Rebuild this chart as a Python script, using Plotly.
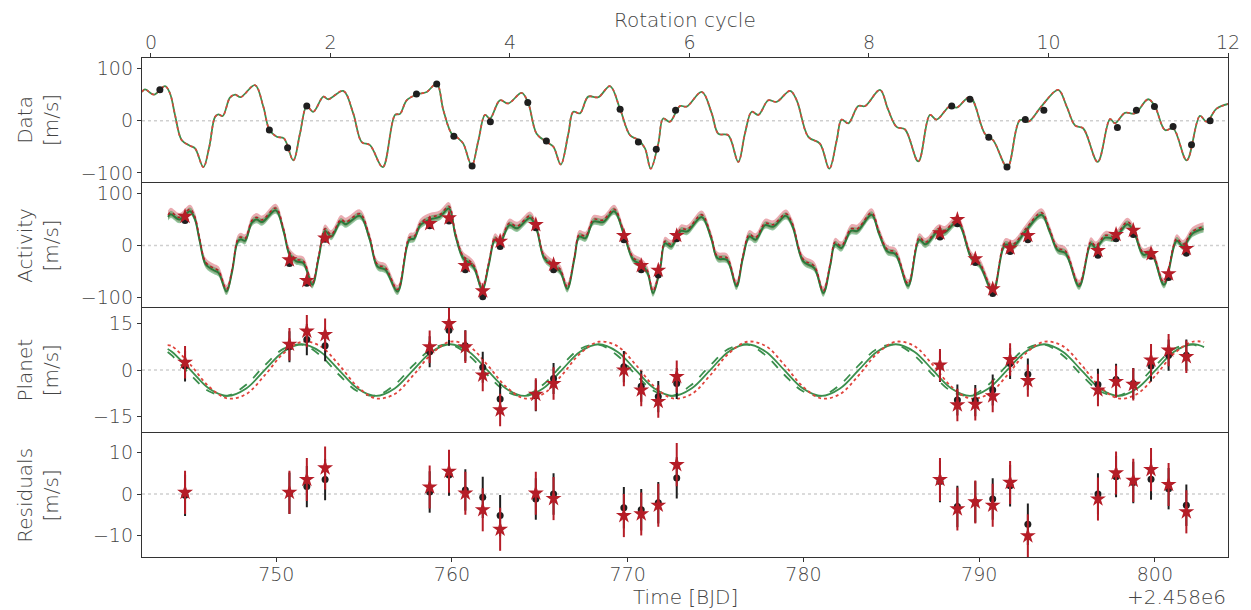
import plotly.graph_objects as go

# ---------------- data ----------------
obs_t = [744.81, 750.75, 751.74, 752.78, 758.73, 759.83, 760.76, 761.75, 762.74, 764.77,
         765.78, 769.78, 770.77, 771.74, 772.79, 787.77, 788.76, 789.78, 790.77, 791.76,
         792.77, 796.76, 797.79, 798.77, 799.78, 800.78, 801.79]
data_rv = [59, -18, -52, 28, 51, 70, -30, -87, -2, 35, -39, 22, -41, -55, 20,
           28, 41, -32, -89, 2, 20, -13, 20, 27, -11, -46, 0]
act_star = [56, -28, -68, 14, 42, 53, -39, -88, 8, 40, -37, 19, -39, -48, 19,
            24, 50, -26, -84, -5, 19, -10, 21, 29, -16, -55, -6]
act_dot = [48, -35, -73, 12, 38, 47, -47, -99, -2, 34, -47, 11, -47, -57, 13,
           16, 42, -33, -93, -12, 11, -19, 13, 21, -21, -62, -15]
planet_star = [2.5, 8.3, 12.5, 11.4, 7.5, 14.9, 7.5, -1.6, -12.8, -7.8, -4.3, 0.0, -6.4, -10.1, -2.1,
               1.6, -11.2, -11.0, -8.3, 3.4, -3.4, -6.4, -3.7, -4.6, 3.2, 6.4, 4.3]
planet_dot = [1.3, 7.5, 9.8, 7.8, 5.9, 12.8, 7.8, 0.9, -9.3, -8.2, -2.7, 1.1, -5.2, -8.5, -4.3,
              1.2, -9.6, -9.8, -6.4, 2.1, -1.3, -4.6, -3.0, -4.3, 1.3, 4.8, 4.8]
resid_star = [0.4, 0.4, 3.5, 6.3, 1.7, 5.5, 0.2, -3.8, -8.5, 0.2, -1.1, -5.2, -4.8, -2.7, 7.1,
              3.5, -3.6, -1.9, -2.7, 2.8, -10.1, -1.2, 5.1, 3.3, 5.9, 2.3, -4.3]
resid_dot = [-0.3, 0.2, 1.8, 3.5, 0.5, 4.6, 1.0, -0.8, -5.2, -1.2, 0.0, -3.3, -3.8, -2.1, 3.9,
             3.0, -3.0, -1.9, -1.2, 2.0, -7.3, 0.0, 4.2, 2.8, 3.6, 1.3, -2.7]
err_star = 5.2
err_dot = 5.0

# activity / full GP model curve (knots)
act_t = [743.84, 744.00, 744.49, 745.09, 745.36, 745.63, 745.99, 746.44, 746.72, 747.17,
         747.49, 747.80, 747.98, 748.22, 748.61, 748.89, 749.19, 749.97, 750.42, 750.75,
         751.15, 751.54, 752.05, 752.41, 752.78, 753.13, 753.68, 753.95, 754.76, 755.30,
         755.76, 756.21, 756.90, 757.57, 757.84, 758.20, 758.74, 759.29, 759.83, 760.19,
         760.64, 761.00, 761.27, 761.73, 762.09, 762.45, 762.72, 763.26, 763.71, 764.44,
         764.80, 765.25, 765.80, 766.16, 766.56, 766.97, 767.24, 767.60, 768.05, 768.60,
         769.23, 769.77, 770.32, 770.77, 771.13, 771.44, 771.85, 772.12, 772.48, 773.03,
         773.39, 774.21, 774.75, 775.11, 775.65, 776.19, 776.55, 776.92, 777.28, 777.82,
         778.27, 779.00, 779.36, 779.99, 780.62, 781.13, 781.53, 781.80, 782.16, 782.70,
         783.07, 783.88, 784.30, 784.78, 785.24, 785.96, 786.59, 786.95, 787.68, 788.04,
         788.76, 789.57, 790.03, 790.79, 791.47, 791.93, 792.65, 793.55, 794.01, 794.46,
         794.91, 795.69, 796.36, 796.63, 797.17, 797.71, 798.43, 798.80, 799.34, 799.79,
         800.52, 801.24, 801.60, 802.14, 802.77]
act_v = [55, 60, 50, 66, 52, 11, -37, -48, -53, -89,
         -50, 7, 12, 9, 44, 50, 45, 68, 27, -17,
         -31, -34, -76, -25, 28, 17, 46, 41, 57, 14,
         -41, -47, -89, 11, 13, 39, 50, 55, 71, 20,
         -25, -34, -44, -86, -38, 11, 4, 39, 33, 53,
         33, -25, -41, -50, -84, -25, 17, 14, 46, 45,
         66, 23, -28, -37, -53, -92, -44, 4, -2, 28,
         27, 55, 14, -25, -28, -79, -25, 17, 11, 39,
         36, 57, 39, -31, -44, -92, -38, 2, -5, 28,
         28, 59, 23, -12, -17, -78, 11, 2, 28, 25,
         45, -25, -38, -89, 1, -2, 28, 59, 27, -9,
         -15, -79, 3, -5, 15, 14, 41, 27, -18, -15,
         -76, 9, -2, 23, 32]
act_red_v = [59, 64, 54, 70, 56, 15, -33, -44, -49, -85,
             -46, 11, 16, 13, 48, 54, 49, 72, 31, -13,
             -27, -30, -72, -21, 32, 21, 50, 45, 61, 18,
             -37, -43, -85, 15, 17, 43, 54, 59, 75, 24,
             -21, -30, -40, -82, -34, 15, 8, 43, 37, 57,
             37, -21, -37, -46, -80, -21, 21, 18, 50, 49,
             70, 27, -24, -33, -49, -88, -40, 8, 2, 32,
             31, 59, 18, -21, -24, -75, -21, 21, 15, 43,
             40, 61, 43, -27, -40, -88, -34, 6, -1, 32,
             32, 63, 27, -8, -13, -74, 15, 6, 32, 29,
             49, -21, -34, -85, 5, 2, 32, 63, 31, -5,
             -11, -75, 7, -1, 19, 18, 45, 31, -14, -11,
             -72, 13, 2, 27, 36]
green_sd = 7.0
red_sd = 8.5

# planet (Keplerian) model curves
planet_t = [743.82, 744.06, 745.12, 746.17, 747.23, 748.29, 749.34, 750.40, 751.45, 752.51,
            753.57, 754.62, 755.68, 756.74, 757.79, 758.85, 759.90, 760.96, 762.01, 763.07,
            764.13, 765.18, 766.24, 767.29, 768.35, 769.41, 770.46, 771.52, 772.58, 773.63,
            774.69, 775.74, 776.80, 777.86, 778.91, 779.97, 781.03, 782.08, 783.14, 784.19,
            785.25, 786.31, 787.36, 788.42, 789.48, 790.53, 791.59, 792.64, 793.70, 794.76,
            795.81, 796.87, 797.93, 798.98, 800.04, 801.09, 802.15, 802.80]
planet_green = [6.8] + [5.9, 0.0, -5.9, -8.3, -5.9, 0.0, 5.9, 8.3] * 7 + [7.4]
planet_dash = [5.8] + [4.7, -1.5, -6.8, -8.2, -4.7, 1.5, 6.8, 8.2] * 7 + [6.5]
planet_red = [8.0] + [7.7, 1.7, -5.3, -9.1, -7.7, -1.7, 5.3, 9.1] * 7 + [9.0]

cycle_ticks = [0, 2, 4, 6, 8, 10, 12]
time_ticks = [750, 760, 770, 780, 790, 800]

# ---------------- style ----------------
GREEN = "#3b8f4d"
GREEN_DARK = "#2a7a3b"
GREEN_BAND = "rgba(76,165,96,0.6)"
RED_BAND = "rgba(220,115,125,0.6)"
RED_LINE = "#e0443c"
RED_STAR = "#b51d27"
BLACK = "#1f1f1f"
TXT = "#444444"
FONT = dict(family="DejaVu Sans ExtraLight, DejaVu Sans", size=19, color=TXT, weight=200)

fig = go.Figure()

# ---- panel 1: data ----
fig.add_trace(go.Scatter(x=act_t, y=act_v, mode="lines", xaxis="x", yaxis="y",
                         line=dict(color=GREEN, width=1.8, shape="spline"), showlegend=False))
fig.add_trace(go.Scatter(x=act_t, y=act_v, mode="lines", xaxis="x", yaxis="y",
                         line=dict(color=RED_LINE, width=1.6, dash="dot", shape="spline"), showlegend=False))
fig.add_trace(go.Scatter(x=obs_t, y=data_rv, mode="markers", xaxis="x", yaxis="y",
                         marker=dict(color=BLACK, size=7), showlegend=False))
# carriers for the top (rotation cycle) and tick-mark-only axes
fig.add_trace(go.Scatter(x=[], y=[], xaxis="x5", yaxis="y", showlegend=False))
fig.add_trace(go.Scatter(x=[], y=[], xaxis="x6", yaxis="y", showlegend=False))
fig.add_trace(go.Scatter(x=[], y=[], xaxis="x7", yaxis="y4", showlegend=False))

# ---- panel 2: activity ----
red_hi = [v + red_sd for v in act_red_v]
red_lo = [v - red_sd for v in act_red_v]
grn_hi = [v + green_sd for v in act_v]
grn_lo = [v - green_sd for v in act_v]
fig.add_trace(go.Scatter(x=act_t, y=red_lo, mode="lines", xaxis="x2", yaxis="y2",
                         line=dict(width=0, shape="spline"), showlegend=False, hoverinfo="skip"))
fig.add_trace(go.Scatter(x=act_t, y=red_hi, mode="lines", xaxis="x2", yaxis="y2", fill="tonexty",
                         fillcolor=RED_BAND, line=dict(width=0, shape="spline"), showlegend=False, hoverinfo="skip"))
fig.add_trace(go.Scatter(x=act_t, y=grn_lo, mode="lines", xaxis="x2", yaxis="y2",
                         line=dict(width=0, shape="spline"), showlegend=False, hoverinfo="skip"))
fig.add_trace(go.Scatter(x=act_t, y=grn_hi, mode="lines", xaxis="x2", yaxis="y2", fill="tonexty",
                         fillcolor=GREEN_BAND, line=dict(width=0, shape="spline"), showlegend=False, hoverinfo="skip"))
fig.add_trace(go.Scatter(x=act_t, y=act_v, mode="lines", xaxis="x2", yaxis="y2",
                         line=dict(color=GREEN_DARK, width=2, shape="spline"), showlegend=False))
fig.add_trace(go.Scatter(x=act_t, y=act_red_v, mode="lines", xaxis="x2", yaxis="y2",
                         line=dict(color=RED_STAR, width=1.5, dash="dot", shape="spline"), showlegend=False))
fig.add_trace(go.Scatter(x=obs_t, y=act_dot, mode="markers", xaxis="x2", yaxis="y2",
                         marker=dict(color=BLACK, size=7), showlegend=False))
fig.add_trace(go.Scatter(x=obs_t, y=act_star, mode="markers", xaxis="x2", yaxis="y2",
                         marker=dict(color=RED_STAR, size=12, symbol="star"), showlegend=False))

# ---- panel 3: planet ----
fig.add_trace(go.Scatter(x=planet_t, y=planet_green, mode="lines", xaxis="x3", yaxis="y3",
                         line=dict(color=GREEN, width=1.8, shape="spline"), showlegend=False))
fig.add_trace(go.Scatter(x=planet_t, y=planet_dash, mode="lines", xaxis="x3", yaxis="y3",
                         line=dict(color=GREEN, width=1.8, dash="dash", shape="spline"), showlegend=False))
fig.add_trace(go.Scatter(x=planet_t, y=planet_red, mode="lines", xaxis="x3", yaxis="y3",
                         line=dict(color=RED_LINE, width=1.8, dash="dot", shape="spline"), showlegend=False))
fig.add_trace(go.Scatter(x=obs_t, y=planet_dot, mode="markers", xaxis="x3", yaxis="y3",
                         marker=dict(color=BLACK, size=7),
                         error_y=dict(type="constant", value=err_dot, width=0, thickness=2, color=BLACK),
                         showlegend=False))
fig.add_trace(go.Scatter(x=obs_t, y=planet_star, mode="markers", xaxis="x3", yaxis="y3",
                         marker=dict(color=RED_STAR, size=12, symbol="star"),
                         error_y=dict(type="constant", value=err_star, width=0, thickness=2, color=RED_STAR),
                         showlegend=False))

# ---- panel 4: residuals ----
fig.add_trace(go.Scatter(x=obs_t, y=resid_dot, mode="markers", xaxis="x4", yaxis="y4",
                         marker=dict(color=BLACK, size=7),
                         error_y=dict(type="constant", value=err_dot, width=0, thickness=2, color=BLACK),
                         showlegend=False))
fig.add_trace(go.Scatter(x=obs_t, y=resid_star, mode="markers", xaxis="x4", yaxis="y4",
                         marker=dict(color=RED_STAR, size=12, symbol="star"),
                         error_y=dict(type="constant", value=err_star, width=0, thickness=2, color=RED_STAR),
                         showlegend=False))

AX = dict(showline=True, mirror=True, linecolor="#333333", linewidth=1.3, showgrid=False,
          zeroline=False, tickfont=FONT, ticks="outside", ticklen=4, tickcolor="#333333",
          automargin=False)
t_range = [742.36, 804.16]
p1_range = [743.84, 802.76]
c_range = [-0.1, 12.0]

# page body has an 8px margin: size the figure so the plot area lands at x 142-1228, y 58-557
layout = dict(
    template="none",
    width=1243, height=602,
    margin=dict(l=134, r=23, t=50, b=53, autoexpand=False),
    paper_bgcolor="white", plot_bgcolor="white",
    font=FONT,
    xaxis=dict(AX, domain=[0, 1], anchor="y", range=p1_range, showticklabels=False, ticks=""),
    # rotation-cycle labels (zero-length ticks, so labels sit close to the frame)
    xaxis5=dict(AX, overlaying="x", anchor="y", side="top", range=c_range,
                tickvals=cycle_ticks, showline=False, ticklen=0, tickcolor="rgba(0,0,0,0)"),
    # rotation-cycle tick marks only
    xaxis6=dict(AX, overlaying="x", anchor="y", side="top", range=c_range,
                tickvals=cycle_ticks, showline=False, showticklabels=False),
    xaxis2=dict(AX, domain=[0, 1], anchor="y2", range=t_range, showticklabels=False, ticks=""),
    xaxis3=dict(AX, domain=[0, 1], anchor="y3", range=t_range, showticklabels=False, ticks=""),
    xaxis4=dict(AX, domain=[0, 1], anchor="y4", range=t_range, tickvals=time_ticks,
                ticklen=0, tickcolor="rgba(0,0,0,0)"),
    xaxis7=dict(AX, overlaying="x4", anchor="y4", side="bottom", range=t_range,
                tickvals=time_ticks, showline=False, showticklabels=False),
    yaxis=dict(AX, domain=[0.751, 1.0], anchor="x", range=[-118, 120], tickvals=[-100, 0, 100]),
    yaxis2=dict(AX, domain=[0.502, 0.749], anchor="x2", range=[-118, 120], tickvals=[-100, 0, 100]),
    yaxis3=dict(AX, domain=[0.251, 0.5], anchor="x3", range=[-19.8, 20.1], tickvals=[-15, 0, 15]),
    yaxis4=dict(AX, domain=[0.0, 0.249], anchor="x4", range=[-15.2, 14.8], tickvals=[-10, 0, 10]),
)
fig.update_layout(**layout)

# zero reference lines
for xr, yr in [("x", "y"), ("x2", "y2"), ("x3", "y3"), ("x4", "y4")]:
    fig.add_shape(type="line", xref=f"{xr} domain", yref=yr, x0=0, x1=1, y0=0, y1=0,
                  line=dict(color="#cfcfcf", width=1.5, dash="dot"), layer="below")

# y-axis titles
titles = [("Data<br>[m/s]", 0.8755), ("Activity<br>[m/s]", 0.6255),
          ("Planet<br>[m/s]", 0.3755), ("Residuals<br>[m/s]", 0.1245)]
for txt, yc in titles:
    fig.add_annotation(text=txt, xref="paper", yref="paper", x=-0.0958, y=yc,
                       xanchor="center", yanchor="middle", textangle=-90, showarrow=False,
                       font=dict(FONT, size=20))

# x-axis titles and offset text
fig.add_annotation(text="Rotation cycle", xref="paper", yref="paper", x=0.5, y=1.077,
                   xanchor="center", yanchor="middle", showarrow=False, font=dict(FONT, size=20))
fig.add_annotation(text="Time [BJD]", xref="paper", yref="paper", x=0.5, y=-0.081,
                   xanchor="center", yanchor="middle", showarrow=False, font=dict(FONT, size=20))
fig.add_annotation(text="+2.458e6", xref="paper", yref="paper", x=1.0, y=-0.081,
                   xanchor="right", yanchor="middle", showarrow=False, font=dict(FONT, size=20))

fig.write_html("out.html")
